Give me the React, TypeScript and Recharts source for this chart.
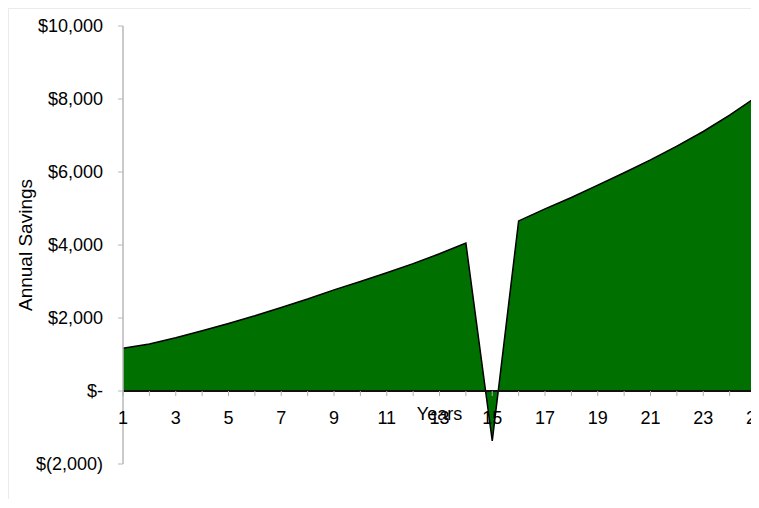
import React from "react";
import { AreaChart, Area, XAxis, YAxis, ReferenceLine } from "recharts";

const years = [1, 2, 3, 4, 5, 6, 7, 8, 9, 10, 11, 12, 13, 14, 15, 16, 17, 18, 19, 20, 21, 22, 23, 24, 25];
const savings = [1170, 1290, 1460, 1650, 1850, 2060, 2290, 2520, 2770, 3000, 3240, 3490, 3760, 4050, -1370, 4660, 4990, 5300, 5640, 5980, 6330, 6710, 7110, 7560, 8050];
const yTicks = [-2000, 0, 2000, 4000, 6000, 8000, 10000];
const yTickLabels = ["$(2,000)", "$-", "$2,000", "$4,000", "$6,000", "$8,000", "$10,000"];

const data = years.map((y, i) => ({ year: y, value: savings[i] }));

const W = 750;
const H = 490;
const MARGIN = { top: 17, right: 3, bottom: 5, left: 4 };
const X_AXIS_H = 30;
const Y_MIN = -2000;
const Y_MAX = 10000;
const PLOT_H = H - MARGIN.top - MARGIN.bottom - X_AXIS_H;
const ZERO_Y = MARGIN.top + (PLOT_H * Y_MAX) / (Y_MAX - Y_MIN);
const FONT = "'Liberation Sans', Arial, sans-serif";

const fmtY = (v: number) => {
  const i = yTicks.indexOf(v);
  return i >= 0 ? yTickLabels[i] : String(v);
};

const XTick = (props: any) => {
  const { x, payload } = props;
  const yr = payload.value as number;
  return (
    <g>
      <line x1={x} y1={ZERO_Y} x2={x} y2={ZERO_Y + 5} stroke="#b0b0b0" strokeWidth={1} />
      {yr % 2 === 1 && (
        <text x={x} y={ZERO_Y + 33} textAnchor="middle" fontSize={18} fontFamily={FONT} fill="#000">
          {yr}
        </text>
      )}
    </g>
  );
};

export default function App() {
  return (
    <div style={{ width: W, height: H, borderLeft: "1px solid #ebebeb", borderTop: "1px solid #ebebeb", background: "#fff" }}>
      <AreaChart width={W} height={H} data={data} margin={MARGIN}>
        <XAxis
          dataKey="year"
          type="number"
          domain={[1, 25]}
          ticks={years}
          interval={0}
          axisLine={false}
          tickLine={false}
          tickSize={0}
          tickMargin={0}
          height={X_AXIS_H}
          tick={<XTick />}
        />
        <YAxis
          type="number"
          domain={[Y_MIN, Y_MAX]}
          ticks={yTicks}
          interval={0}
          width={110}
          tickFormatter={fmtY}
          axisLine={{ stroke: "#b8b8b8", strokeWidth: 1.5 }}
          tickLine={{ stroke: "#b8b8b8" }}
          tickSize={5}
          tickMargin={15}
          tick={{ fontSize: 18, fontFamily: FONT, fill: "#000" }}
          label={{
            value: "Annual Savings",
            angle: -90,
            position: "insideLeft",
            offset: 12,
            style: { fontSize: 19, fontFamily: FONT, fill: "#000", textAnchor: "middle" },
          }}
        />
        <Area
          type="linear"
          dataKey="value"
          stroke="#000"
          strokeWidth={1.5}
          fill="#007000"
          fillOpacity={1}
          isAnimationActive={false}
        />
        <ReferenceLine
          y={0}
          stroke="#111"
          strokeWidth={2}
          label={{ value: "Years", position: "bottom", offset: 16, style: { fontSize: 18, fontFamily: FONT, fill: "#000" } }}
        />
      </AreaChart>
    </div>
  );
}
